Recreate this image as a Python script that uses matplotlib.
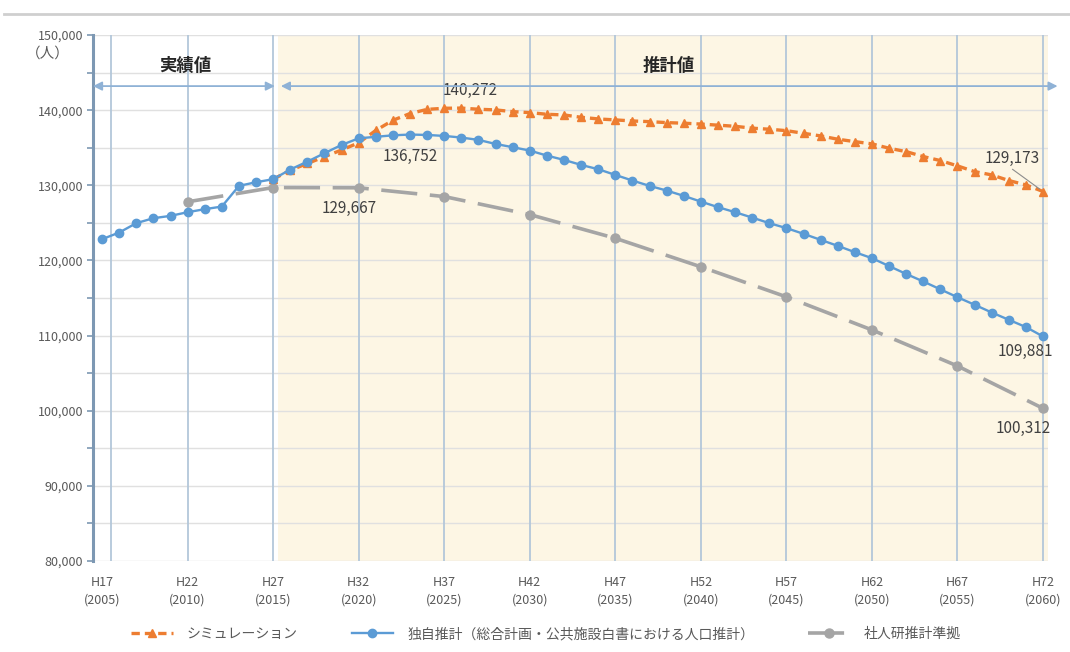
import matplotlib
matplotlib.use("Agg")
import matplotlib.pyplot as plt
from matplotlib.lines import Line2D

plt.rcParams['font.family'] = ['Noto Sans CJK JP', 'DejaVu Sans']

# ---- data -------------------------------------------------------------
own_years = list(range(2005, 2061))
own_pop = [
    122830, 123710, 124960, 125620, 125930, 126420, 126820, 127170, 129920, 130410,
    130810, 132100, 133150, 134270, 135370, 136250, 136450, 136650, 136752, 136700,
    136570, 136350, 136040, 135500, 135070, 134620, 133950, 133380, 132710, 132140,
    131380, 130630, 129920, 129300, 128590, 127830, 127090, 126420, 125700, 124960,
    124300, 123540, 122740, 121940, 121100, 120300, 119250, 118200, 117200, 116150,
    115100, 114100, 113070, 112100, 111130, 109881,
]

sim_years = list(range(2015, 2061))
sim_pop = [
    130810, 132000, 132900, 133800, 134700, 135650, 137300, 138650, 139550, 140100,
    140250, 140272, 140120, 140030, 139800, 139670, 139450, 139360, 139050, 138830,
    138700, 138560, 138470, 138340, 138260, 138150, 138000, 137850, 137600, 137460,
    137270, 136920, 136570, 136130, 135810, 135510, 134930, 134480, 133820, 133290,
    132580, 131820, 131380, 130630, 130050, 129173,
]

ipss_years = list(range(2010, 2061, 5))
ipss_pop = [127800, 129700, 129667, 128500, 126100, 122950,
            119150, 115150, 110750, 105950, 100312]

tick_years = list(range(2005, 2061, 5))
tick_labels = ['H17\n(2005)', 'H22\n(2010)', 'H27\n(2015)', 'H32\n(2020)',
               'H37\n(2025)', 'H42\n(2030)', 'H47\n(2035)', 'H52\n(2040)',
               'H57\n(2045)', 'H62\n(2050)', 'H67\n(2055)', 'H72\n(2060)']

series_names = ['シミュレーション',
                '独自推計（総合計画・公共施設白書における人口推計）',
                '社人研推計準拠']
period_names = ['実績値', '推計値']

# ---- styles -------------------------------------------------------------
ORANGE = '#ed7d31'
BLUE = '#5b9bd5'
GRAY = '#a5a5a5'
CREAM = '#fdf6e4'
GRID = '#e0e0e0'
VLINE = '#b3c7da'
SPINE = '#7d98b3'
TEXT = '#595959'

W, H = 1070, 652
fig = plt.figure(figsize=(W / 100, H / 100), dpi=100)
ax = fig.add_axes([93 / W, 1 - 561 / H, (1048 - 93) / W, (561 - 35) / H])

x_left, x_right = 2004.47, 2060.29
split = 2015.3
ax.set_xlim(x_left, x_right)
ax.set_ylim(80000, 150000)

# shaded projection period
ax.axvspan(split, x_right, color=CREAM, zorder=0, lw=0)

# horizontal grid every 5,000
yt = list(range(80000, 150001, 5000))
ax.set_yticks(yt)
ax.set_yticklabels([f'{v:,}' if v % 10000 == 0 else '' for v in yt],
                   fontsize=9, color=TEXT)
for v in yt:
    ax.axhline(v, color=GRID, lw=1.0, zorder=1)

# vertical guide lines
for xv in [2005.5] + tick_years[1:]:
    ax.axvline(xv, color=VLINE, lw=1.3, zorder=1)

ax.set_xticks(tick_years)
ax.set_xticklabels(tick_labels, fontsize=9, color=TEXT, linespacing=1.45)
ax.tick_params(axis='x', length=0, pad=10.5)
ax.tick_params(axis='y', direction='out', length=4, width=1.2, color=SPINE, pad=3)

for s in ['top', 'right', 'bottom']:
    ax.spines[s].set_visible(False)
ax.spines['left'].set_color(SPINE)
ax.spines['left'].set_linewidth(2.2)

# ---- series -------------------------------------------------------------
l_sim, = ax.plot(sim_years, sim_pop, color=ORANGE, lw=2.4, ls=(0, (2.5, 1.5)),
                 marker='^', ms=6, mec=ORANGE, mfc=ORANGE, zorder=4,
                 label=series_names[0])
l_own, = ax.plot(own_years, own_pop, color=BLUE, lw=1.7, marker='o', ms=6,
                 mec=BLUE, mfc=BLUE, zorder=5, label=series_names[1])
l_ipss, = ax.plot(ipss_years, ipss_pop, color=GRAY, lw=2.6, ls=(0, (10, 3.5)),
                  marker='o', ms=6.5, mec=GRAY, mfc=GRAY, zorder=3,
                  label=series_names[2])

# ---- value labels -------------------------------------------------------
def value_label(xs, ys, year, dx, dy):
    v = ys[xs.index(year)]
    ax.annotate(f'{v:,}', (year, v), xytext=(dx, dy),
                textcoords='offset points', ha='center', va='center',
                fontsize=11, color='#404040', zorder=6)

value_label(sim_years, sim_pop, 2026, 6.5, 13)
value_label(own_years, own_pop, 2023, 0, -15.5)
value_label(ipss_years, ipss_pop, 2020, -7, -15)
value_label(sim_years, sim_pop, 2060, -22, 24)
value_label(own_years, own_pop, 2060, -13, -11)
value_label(ipss_years, ipss_pop, 2060, -14.5, -14.7)
# leader from the 2060 simulation label to its point
ax.annotate('', xy=(sim_years[-1], sim_pop[-1]), xytext=(-22, 16),
            textcoords='offset points',
            arrowprops=dict(arrowstyle='-', color='#8c8c8c', lw=0.8,
                            shrinkA=0, shrinkB=3), zorder=6)

# ---- period arrows and captions ----------------------------------------
arrow_y = 143200
arrow_kw = dict(arrowstyle='<|-|>', color='#8fb2d6', lw=1.3, mutation_scale=13,
                shrinkA=0, shrinkB=0)
ax.annotate('', xy=(split - 0.2, arrow_y), xytext=(x_left, arrow_y),
            arrowprops=arrow_kw, annotation_clip=False, zorder=6)
ax.annotate('', xy=(2060.85, arrow_y), xytext=(split + 0.15, arrow_y),
            arrowprops=arrow_kw, annotation_clip=False, zorder=6)
ax.text((x_left + split) / 2, 145900, period_names[0], ha='center', va='center',
        fontsize=12.5, fontweight='bold', color='#262626', zorder=6)
ax.text(2038.1, 145900, period_names[1], ha='center', va='center',
        fontsize=12.5, fontweight='bold', color='#262626', zorder=6)

# unit label under the top tick
fig.text(48 / W, 1 - 54 / H, '（人）', ha='center', va='center',
         fontsize=10.5, color=TEXT)

# ---- legend -------------------------------------------------------------
leg = fig.legend(handles=[l_sim, l_own, l_ipss], loc='center',
                 bbox_to_anchor=(546 / W, 1 - 634 / H), ncol=3, frameon=False,
                 fontsize=10, handlelength=3.0, handletextpad=1.0,
                 columnspacing=3.9)
for t in leg.get_texts():
    t.set_color(TEXT)

# frame line across the top of the image
fig.add_artist(Line2D([0.004, 1.0], [1 - 14 / H] * 2, color='#cfcfcf', lw=2))

fig.savefig('out.png', dpi=100, facecolor='white')
